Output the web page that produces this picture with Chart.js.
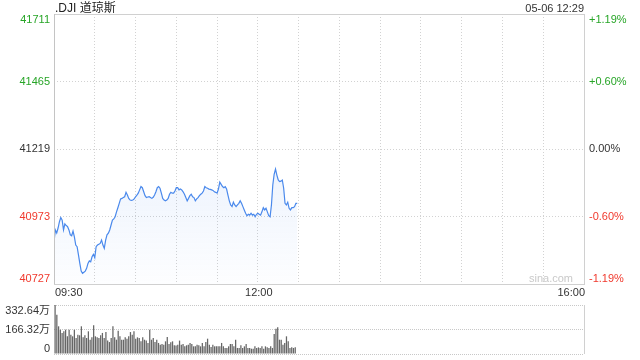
<!DOCTYPE html>
<html>
<head>
<meta charset="utf-8">
<script src="https://cdn.jsdelivr.net/npm/chart.js@4.4.1/dist/chart.umd.min.js"></script>
<style>
  html, body { margin: 0; padding: 0; background: #fff; }
  #wrap { position: relative; width: 640px; height: 360px; }
  #price { position: absolute; left: 0; top: 0; }
  #vol { position: absolute; left: 0; top: 298px; }
</style>
</head>
<body>
<div id="wrap">
  <canvas id="price" width="640" height="298"></canvas>
  <canvas id="vol" width="640" height="62"></canvas>
</div>
<script>
const title = '.DJI 道琼斯';
const stamp = '05-06 12:29';
const prevClose = 41219;
const priceTicks = [41711, 41465, 41219, 40973, 40727];
const pctTicks = ['+1.19%', '+0.60%', '0.00%', '-0.60%', '-1.19%'];
const timeTicks = [0, 150, 390]; // minutes after 09:30
const timeLabels = ['09:30', '12:00', '16:00'];
const volTicks = [332.64, 166.32, 0];
const volLabels = ['332.64万', '166.32万', '0'];

// one value per minute from 09:30 to 12:29
const prices = [
  40881, 40924, 40913, 40931, 40954, 40969, 40960, 40924, 40946, 40940,
  40936, 40924, 40906, 40903, 40920, 40899, 40869, 40863, 40833, 40802,
  40774, 40766, 40770, 40774, 40784, 40802, 40811, 40808, 40826, 40835,
  40823, 40863, 40869, 40872, 40875, 40887, 40869, 40857, 40887, 40906,
  40912, 40924, 40942, 40960, 40964,
  40972, 40990, 41005, 41021, 41037, 41039, 41042, 41045, 41061, 41051,
  41039, 41033, 41032, 41033, 41037, 41045, 41051, 41058, 41070, 41082,
  41078, 41063, 41049, 41042, 41044, 41045, 41042, 41039, 41043, 41051,
  41063, 41078, 41082, 41076, 41058, 41039, 41033, 41030, 41033, 41039,
  41054, 41061, 41058, 41058, 41066, 41078,
  41078, 41070, 41073, 41070, 41063, 41054, 41042, 41030, 41039, 41049,
  41054, 41045, 41042, 41030, 41037, 41042, 41049, 41054, 41058, 41066,
  41082, 41078, 41076, 41073, 41072, 41070, 41068, 41063, 41061, 41058,
  41073, 41098, 41090, 41082, 41078, 41082, 41073, 41051, 41030, 41015,
  41009, 41025, 41015, 41009, 41015,
  41021, 41030, 41021, 41009, 40997, 40985, 40976, 40981, 40978, 40985,
  40978, 40981, 40972, 40981, 40985, 40981, 40978, 40990, 41005, 40997,
  41003, 40990, 40976, 40972, 41015, 41088, 41127, 41146, 41124, 41106,
  41100, 41102, 41106, 41076, 41021, 41015, 41025, 41003, 40997, 41005,
  41005, 41009, 41021, 41021
];

// volume in 万
const volumes = [
  332, 267, 188, 165, 143, 154, 165, 120, 165, 131,
  120, 165, 109, 131, 127, 188, 113, 127, 109, 154,
  97, 113, 195, 120, 113, 109, 127, 143, 109, 149,
  91, 81, 109, 188, 113, 97, 158, 120, 97, 97,
  113, 104, 120, 149, 131, 154, 104, 113, 109, 86,
  113, 97, 91, 75, 165, 97, 109, 81, 97, 75,
  63, 68, 63, 86, 115, 68, 79, 86, 59,
  57, 63, 91, 63, 68, 52, 59, 63, 75, 68,
  52, 52, 63, 59, 52, 75, 52, 81, 104, 63,
  47, 63, 52, 52, 52, 52, 75, 52, 41, 41,
  52, 68, 68, 52, 97, 41, 41, 59, 41, 52,
  68, 41, 41, 36, 36, 52, 41, 45, 41, 52,
  36, 52, 45, 41, 52, 41, 136, 172, 181, 97,
  97, 63, 75, 120, 86, 41, 45, 41, 45, 3
];

const upColor = '#27a527';
const downColor = '#f0392d';
const textColor = '#333';
const gridColor = '#d2d2d2';
const lineColor = '#4a89ec';
const font = '11px "Liberation Sans", Arial, "Noto Sans CJK SC", sans-serif';

// solid frame around the price area
const frame = {
  id: 'frame',
  afterDatasetsDraw(chart) {
    const { ctx, chartArea: a } = chart;
    ctx.save();
    ctx.strokeStyle = '#d0d0d0';
    ctx.lineWidth = 1;
    ctx.strokeRect(Math.round(a.left) + 0.5, Math.round(a.top) + 0.5,
      Math.round(a.right - a.left), Math.round(a.bottom - a.top));
    ctx.strokeStyle = '#c4c4c4';
    ctx.beginPath();
    ctx.moveTo(Math.round(a.left) + 0.5, a.top);
    ctx.lineTo(Math.round(a.left) + 0.5, a.bottom);
    ctx.stroke();
    ctx.restore();
  }
};

const priceText = {
  id: 'priceText',
  afterDraw(chart) {
    const { ctx, chartArea: a, scales } = chart;
    ctx.save();
    ctx.font = font;
    priceTicks.forEach((v, i) => {
      const y = scales.y.getPixelForValue(v);
      ctx.textBaseline = i === 0 ? 'top' : (i === priceTicks.length - 1 ? 'bottom' : 'middle');
      ctx.fillStyle = v > prevClose ? upColor : (v < prevClose ? downColor : textColor);
      ctx.textAlign = 'right';
      ctx.fillText(String(v), a.left - 4, y);
      ctx.textAlign = 'left';
      ctx.fillText(pctTicks[i], a.right + 5, y);
    });
    ctx.fillStyle = textColor;
    ctx.textBaseline = 'middle';
    timeTicks.forEach((t, i) => {
      const x = scales.x.getPixelForValue(t);
      ctx.textAlign = i === 0 ? 'left' : (i === timeTicks.length - 1 ? 'right' : 'center');
      ctx.fillText(timeLabels[i], x + 1, 293);
    });
    ctx.textAlign = 'right';
    ctx.fillText(stamp, a.right, 8.5);
    ctx.fillStyle = '#c9c9c9';
    ctx.fillText('sina.com', a.right - 11, 279);
    ctx.textAlign = 'left';
    ctx.fillStyle = '#222';
    ctx.font = '12px "Liberation Sans", Arial, "Noto Sans CJK SC", sans-serif';
    ctx.fillText(title, a.left + 1, 8.5);
    ctx.restore();
  }
};

new Chart(document.getElementById('price'), {
  type: 'line',
  data: {
    datasets: [{
      data: prices.map((p, i) => ({ x: i, y: p })),
      borderColor: lineColor,
      borderWidth: 1.2,
      pointRadius: 0,
      tension: 0,
      fill: 'start',
      backgroundColor: (c) => {
        const area = c.chart.chartArea;
        if (!area) return 'rgba(74,137,236,0.08)';
        const g = c.chart.ctx.createLinearGradient(0, area.top, 0, area.bottom);
        g.addColorStop(0, 'rgba(74,137,236,0.16)');
        g.addColorStop(0.6, 'rgba(74,137,236,0.09)');
        g.addColorStop(1, 'rgba(74,137,236,0.01)');
        return g;
      }
    }]
  },
  options: {
    responsive: false,
    animation: false,
    events: [],
    layout: { padding: { left: 54, right: 56, top: 14, bottom: 14 } },
    plugins: { legend: { display: false }, tooltip: { enabled: false } },
    scales: {
      x: {
        type: 'linear', min: 0, max: 390,
        ticks: { display: false, stepSize: 30 },
        grid: { color: gridColor, drawTicks: false },
        border: { display: false, dash: [1, 2] }
      },
      y: {
        min: 40727, max: 41711,
        afterBuildTicks: (s) => { s.ticks = priceTicks.map(v => ({ value: v })); },
        ticks: { display: false },
        grid: { color: gridColor, drawTicks: false },
        border: { display: false, dash: [1, 2] }
      }
    }
  },
  plugins: [frame, priceText]
});

const volText = {
  id: 'volText',
  afterDraw(chart) {
    const { ctx, chartArea: a, scales } = chart;
    ctx.save();
    ctx.strokeStyle = '#d0d0d0';
    ctx.beginPath();
    ctx.moveTo(Math.round(a.right) + 0.5, a.top);
    ctx.lineTo(Math.round(a.right) + 0.5, a.bottom);
    ctx.stroke();
    ctx.font = font;
    ctx.fillStyle = textColor;
    ctx.textAlign = 'right';
    volTicks.forEach((v, i) => {
      const y = scales.y.getPixelForValue(v);
      ctx.textBaseline = i === 0 ? 'top' : (i === volTicks.length - 1 ? 'bottom' : 'middle');
      ctx.fillText(volLabels[i], a.left - 4, y);
    });
    ctx.restore();
  }
};

new Chart(document.getElementById('vol'), {
  type: 'bar',
  data: {
    datasets: [{
      data: volumes.map((v, i) => ({ x: 0.8 + i * 178 / (volumes.length - 1), y: v })),
      backgroundColor: '#666',
      barPercentage: 0.9,
      categoryPercentage: 0.8
    }]
  },
  options: {
    responsive: false,
    animation: false,
    events: [],
    layout: { padding: { left: 54, right: 56, top: 7, bottom: 6 } },
    plugins: { legend: { display: false }, tooltip: { enabled: false } },
    scales: {
      x: {
        type: 'linear', min: 0, max: 390, offset: false,
        ticks: { display: false },
        grid: { display: false, drawTicks: false },
        border: { display: false }
      },
      y: {
        min: 0, max: 332.64,
        afterBuildTicks: (s) => { s.ticks = volTicks.map(v => ({ value: v })); },
        ticks: { display: false },
        grid: { color: '#c8c8c8', drawTicks: false },
        border: { display: false, dash: [1, 1] }
      }
    }
  },
  plugins: [volText]
});
</script>
</body>
</html>
